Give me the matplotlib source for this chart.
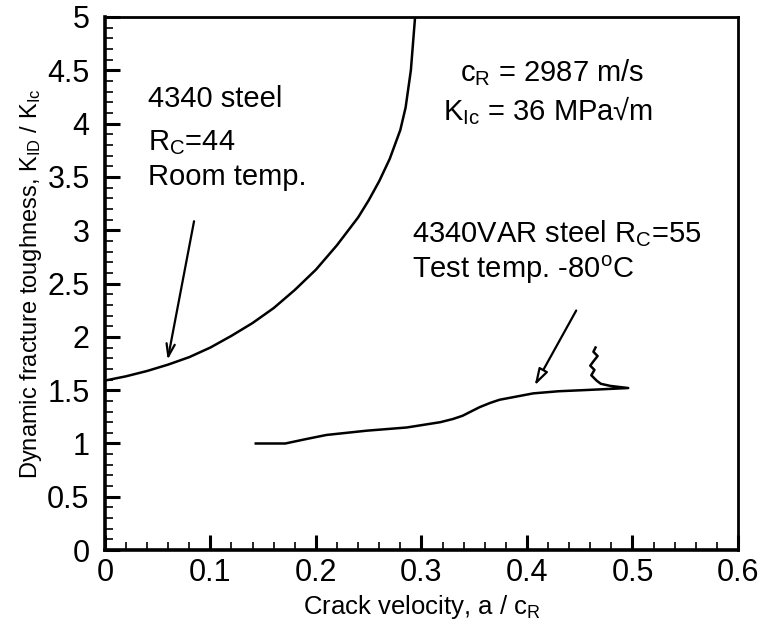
import matplotlib
matplotlib.use("Agg")
import matplotlib.pyplot as plt
from matplotlib.ticker import MultipleLocator

plt.rcParams["font.family"] = ["Liberation Sans", "DejaVu Sans"]
plt.rcParams["mathtext.default"] = "regular"

# 4340 steel, room temperature (Rc = 44)
steel_x = [0.0, 0.02, 0.04, 0.06, 0.08, 0.10, 0.12, 0.14, 0.16, 0.18, 0.20, 0.22,
           0.24, 0.25, 0.26, 0.27, 0.28, 0.285, 0.29, 0.294]
steel_y = [1.59, 1.63, 1.68, 1.74, 1.81, 1.90, 2.01, 2.13, 2.27, 2.44, 2.63, 2.86,
           3.12, 3.28, 3.46, 3.67, 3.94, 4.15, 4.50, 5.0]

# 4340VAR steel, -80 C (Rc = 55)
var_x = [0.143, 0.171, 0.190, 0.210, 0.248, 0.286, 0.318, 0.330, 0.339, 0.347, 0.355,
         0.365, 0.374, 0.390, 0.406, 0.430, 0.453, 0.496,
         0.479, 0.470, 0.466, 0.461, 0.464, 0.460, 0.463, 0.467, 0.463, 0.465]
var_y = [1.00, 1.00, 1.04, 1.08, 1.12, 1.15, 1.20, 1.23, 1.26, 1.30, 1.34,
         1.38, 1.41, 1.44, 1.47, 1.49, 1.50, 1.52,
         1.54, 1.56, 1.59, 1.64, 1.69, 1.73, 1.77, 1.82, 1.86, 1.90]

x_ticks = [0, 0.1, 0.2, 0.3, 0.4, 0.5, 0.6]
x_labels = ["0", "0.1", "0.2", "0.3", "0.4", "0.5", "0.6"]
y_ticks = [0, 0.5, 1, 1.5, 2, 2.5, 3, 3.5, 4, 4.5, 5]
y_labels = ["0", "0.5", "1", "1.5", "2", "2.5", "3", "3.5", "4", "4.5", "5"]

fig = plt.figure(figsize=(7.6, 6.28), dpi=100)
ax = fig.add_axes([0.138, 0.124, 0.833, 0.849])

ax.plot(steel_x, steel_y, color="black", lw=1.8)
ax.plot(var_x, var_y, color="black", lw=1.8)

ax.set_xlim(0, 0.6)
ax.set_ylim(0, 5)
ax.set_xticks(x_ticks)
ax.set_xticklabels(x_labels)
ax.set_yticks(y_ticks)
ax.set_yticklabels(y_labels)
ax.xaxis.set_minor_locator(MultipleLocator(0.02))
ax.yaxis.set_minor_locator(MultipleLocator(0.1))
ax.tick_params(which="both", direction="in", top=False, right=False, labelsize=22, colors="black")
ax.tick_params(which="major", length=11, width=2.2)
ax.tick_params(axis="x", which="major", pad=6)
ax.tick_params(axis="y", which="major", pad=11)
ax.tick_params(which="minor", length=6, width=1.2)
for side in ["left", "bottom"]:
    ax.spines[side].set_linewidth(2.6)
for side in ["top", "right"]:
    ax.spines[side].set_linewidth(2.0)

ax.set_xlabel("Crack velocity, a / c$_R$", fontsize=18.5, labelpad=3)
ax.set_ylabel("Dynamic fracture toughness, K$_{ID}$ / K$_{Ic}$", fontsize=17, labelpad=2)

txt = dict(fontsize=21, color="black", va="center", ha="left")
ax.text(0.041, 4.23, "4340 steel", **txt)
ax.text(0.041, 3.82, "R$_C$=44", **txt)
ax.text(0.041, 3.50, "Room temp.", **txt)
ax.text(0.337, 4.48, "c$_R$ = 2987 m/s", **txt)
ax.text(0.320, 4.12, "K$_{Ic}$ = 36 MPa\u221am", **txt)
ax.text(0.291, 2.97, "4340VAR steel R$_C$=55", **txt)
ax.text(0.291, 2.63, "Test temp. -80$^o$C", **txt)

ax.annotate("", xy=(0.059, 1.76), xytext=(0.085, 3.11),
            arrowprops=dict(arrowstyle="->,head_length=0.9,head_width=0.3", color="black", lw=1.6))
ax.annotate("", xy=(0.406, 1.52), xytext=(0.448, 2.27),
            arrowprops=dict(arrowstyle="-|>,head_length=1.0,head_width=0.3", fc="white", ec="black", lw=1.6))

fig.savefig("out.png", dpi=100)
